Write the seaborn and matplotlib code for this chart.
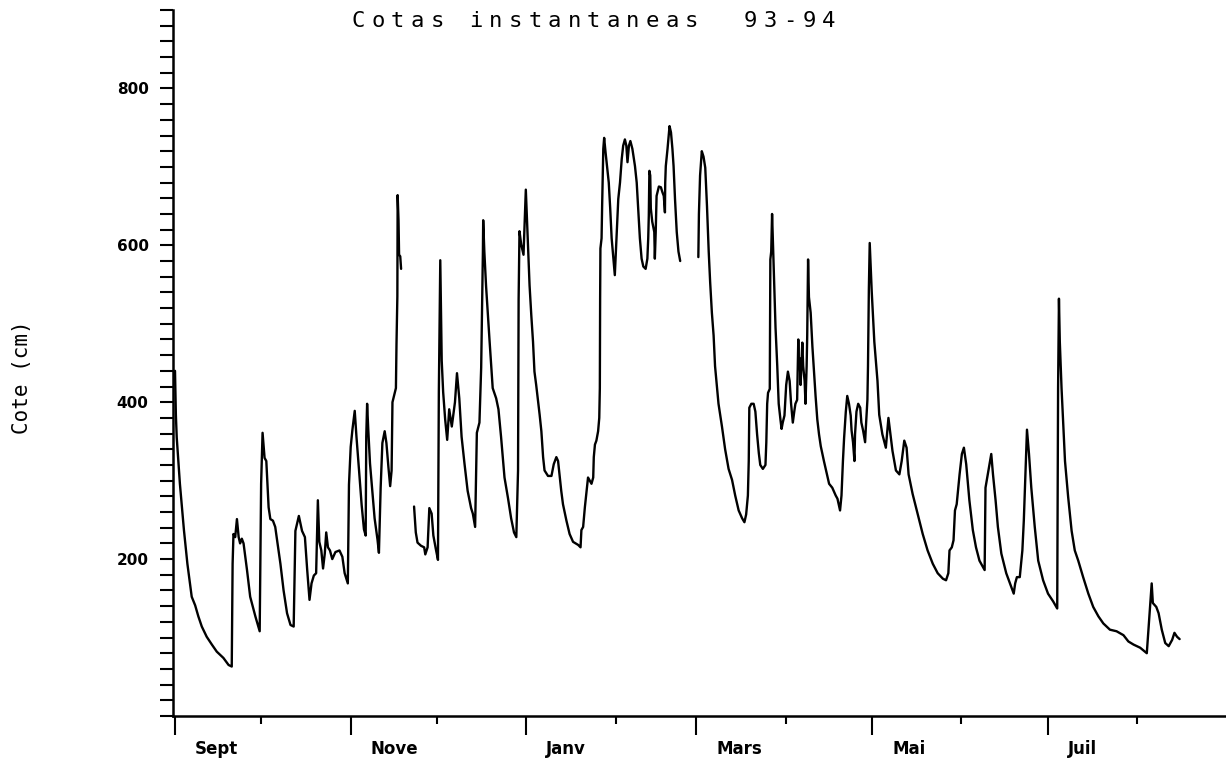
import numpy as np
import pandas as pd
import seaborn as sns
import matplotlib
matplotlib.use('Agg')
import matplotlib.pyplot as plt
import matplotlib.dates as mdates
from matplotlib.ticker import FixedLocator, MultipleLocator, FuncFormatter
from matplotlib.transforms import ScaledTranslation

# jours depuis le 1er septembre 1993 / cote (cm), lus sur le graphique
# trois troncons separes par des lacunes
jours_a = [0, 0.3, 0.6, 1.7, 3.1, 4.3, 5.8, 7.0, 8.1, 9.3, 11.0, 12.8, 14.5, 16.8, 18.6, 19.7,
           20.0, 20.3, 20.9, 21.5, 22.1, 22.6, 23.2, 23.8, 25.0, 26.1, 27.9, 29.4, 29.9, 30.4,
           31.1, 31.7, 32.5, 33.1, 34.0, 34.8, 35.6, 36.6, 37.7, 38.9, 40.1, 41.2, 41.8, 43.0,
           44.1, 45.1, 45.9, 46.7, 47.4, 48.2, 49.0, 49.6, 50.1, 50.8, 51.4, 52.0, 52.5, 53.1,
           53.8, 54.6, 55.7, 57.1, 58.1, 58.9, 60.0, 60.4, 61.0, 61.6, 62.4, 63.0, 63.9, 64.8,
           65.6, 66.2, 66.4, 66.7, 67.1, 67.7, 68.5, 69.3, 70.3, 70.8, 71.4, 72.0, 72.8, 73.4,
           74.1, 74.7, 75.2, 75.5, 76.1, 76.7, 76.9, 77.2, 77.3, 77.6, 77.8, 78.2, 78.5]
cotes_a = [440, 384, 355, 296, 237, 194, 152, 141, 127, 114, 101, 91, 82, 74, 65, 63,
           194, 232, 228, 251, 228, 220, 226, 220, 186, 152, 127, 108, 296, 361,
           329, 325, 266, 251, 249, 241, 220, 194, 160, 131, 116, 114, 236, 255,
           236, 228, 186, 148, 169, 179, 182, 275, 222, 211, 188, 207, 234, 215,
           211, 200, 209, 211, 203, 182, 169, 295, 343, 365, 389, 356, 313, 269,
           238, 230, 356, 398, 365, 322, 287, 252, 225, 208, 291, 348, 363, 348,
           317, 293, 313, 400, 409, 418, 474, 535, 664, 632, 588, 586, 570]

jours_b = [83.0, 83.6, 84.2, 85.4, 86.5, 86.9, 87.7, 88.3, 89.1, 89.7, 90.6, 91.3, 91.6, 92.1,
           92.6, 93.1, 93.8, 94.5, 95.2, 96.1, 97.2, 97.9, 98.7, 99.5, 100.5, 101.6, 102.8,
           103.4, 104.2, 104.8, 105.7, 106.3, 106.9, 107.0, 107.4, 108.0, 109.2, 110.3, 111.5,
           112.3, 113.2, 114.4, 115.6, 116.7, 117.7, 118.5, 119.1, 119.3, 119.6, 120.2, 121.0,
           121.8, 123.1, 123.7, 124.3, 124.8, 125.4, 126.6, 127.2, 127.8, 128.3, 129.5, 130.7,
           131.5, 132.4, 133.0, 133.6, 134.1, 134.7, 135.9, 137.0, 138.2, 140.0, 140.8, 141.1,
           141.7, 142.3, 142.9, 143.4, 144.0, 144.6, 145.2, 145.4, 145.8, 146.3, 146.9, 147.3,
           147.5, 147.6, 147.7, 148.1, 148.3, 148.7, 149.0, 149.5, 150.2, 150.6, 151.1, 151.6,
           152.2, 152.7, 153.3, 153.9, 154.5, 155.1, 155.6, 156.2, 156.7, 157.1, 157.6, 158.1,
           158.8, 159.7, 160.3, 160.9, 161.4, 162.0, 162.6, 163.4, 164.0, 164.3, 164.5, 164.7,
           165.0, 165.2, 165.7, 166.4, 166.6, 166.9, 167.2, 168.0, 168.7, 169.2, 169.7, 170.1,
           170.2, 170.4, 171.0, 171.7, 172.2, 172.7, 173.1, 173.6, 174.2, 174.8, 175.4]
cotes_b = [267, 234, 221, 217, 215, 206, 215, 265, 258, 230, 212, 199, 413, 581,
           453, 413, 378, 352, 391, 369, 400, 437, 405, 356, 322, 287, 265,
           258, 241, 361, 374, 444, 592, 632, 592, 548, 479, 418, 405,
           391, 356, 304, 278, 252, 234, 228, 313, 531, 618, 601, 588,
           671, 549, 511, 477, 439, 422, 384, 363, 330, 313, 306, 306,
           321, 330, 325, 304, 287, 270, 249, 232, 222, 218, 215, 237,
           241, 266, 287, 304, 300, 296, 304, 330, 346, 351, 363, 380,
           418, 532, 596, 609, 651, 723, 737, 718, 693, 680, 647, 609,
           583, 562, 609, 659, 680, 710, 727, 735, 727, 706, 727, 733,
           723, 701, 680, 642, 609, 583, 573, 570, 583, 609, 638, 695,
           689, 647, 630, 617, 583, 617, 663, 675, 674, 668, 663, 642,
           680, 701, 723, 752, 744, 723, 701, 659, 617, 592, 580]

jours_c = [181.7, 181.9, 182.3, 182.9, 183.5, 184.1, 184.7, 185.3, 185.8, 186.4, 187.0, 187.5,
           188.1, 188.7, 189.9, 191.0, 192.2, 193.4, 194.5, 195.7, 196.9, 197.7, 198.3, 198.9,
           199.2, 199.4, 200.1, 200.9, 201.5, 202.1, 202.7, 203.2, 204.1, 205.0, 205.3, 205.6,
           205.9, 206.5, 206.7, 207.0, 207.3, 207.7, 207.9, 208.5, 209.1, 209.6, 210.2, 210.6,
           211.0, 211.6, 212.2, 212.8, 213.4, 213.9, 214.5, 215.0, 215.4, 216.0, 216.4, 216.6,
           216.9, 217.2, 217.8, 218.1, 218.6, 218.9, 219.3, 219.5, 219.8, 220.1, 220.7, 221.3,
           221.9, 222.4, 223.0, 223.6, 224.2, 225.3, 226.5, 227.1, 228.2, 229.4, 230.0, 230.9,
           231.4, 231.9, 232.3, 232.9, 233.4, 234.0, 234.6, 234.9, 235.4, 235.9, 236.1, 236.6,
           237.2, 237.9, 238.3, 238.9, 239.6, 239.8, 240.4, 240.6, 240.9, 241.2, 241.9, 242.8,
           243.9, 244.5, 245.6, 246.8, 247.4, 247.7, 248.2, 249.1, 250.3, 251.5, 252.3, 253.2,
           254.0, 254.7, 256.1, 257.8, 259.6, 261.3, 263.1, 264.8, 266.6, 267.7, 268.5, 268.9,
           269.7, 270.3, 270.8, 271.4, 272.4, 273.2, 273.9, 274.7, 275.8, 277.0, 278.1, 279.3,
           281.1, 281.4, 282.2, 283.4, 284.0, 284.9, 285.7, 286.9, 288.6, 290.3, 291.2, 291.7,
           292.3, 293.3, 294.2, 294.7, 295.4, 295.8, 296.5, 297.3, 298.5, 299.7, 301.4, 303.1,
           304.9, 306.3, 306.6, 306.9, 307.2, 307.8, 309.0, 310.1, 311.3, 312.4, 313.6, 315.3,
           317.1, 318.8, 320.6, 322.3, 324.6, 326.9, 329.3, 331.0, 332.8, 335.1, 337.4, 338.6,
           339.1, 339.5, 340.7, 341.5, 342.6, 343.8, 345.0, 346.2, 347.0, 347.9, 348.8]
cotes_c = [585, 640, 689, 720, 713, 699, 650, 592, 553, 514, 485, 446,
           422, 398, 369, 340, 315, 301, 281, 262, 252, 247, 257, 281,
           325, 393, 398, 398, 388, 359, 335, 320, 315, 320, 349, 398,
           412, 417, 582, 592, 640, 592, 568, 495, 446, 398, 378, 366,
           374, 383, 422, 439, 427, 398, 374, 388, 398, 403, 480, 446,
           456, 422, 476, 446, 427, 398, 446, 485, 582, 534, 514, 471,
           437, 408, 378, 359, 344, 325, 306, 296, 291, 281, 277, 262,
           281, 325, 354, 388, 408, 398, 383, 364, 349, 325, 359, 388,
           398, 393, 374, 364, 349, 364, 403, 446, 544, 603, 541, 477,
           427, 384, 359, 342, 368, 380, 365, 338, 313, 308, 325, 351,
           342, 308, 283, 258, 232, 211, 194, 182, 175, 173, 182, 211,
           215, 224, 262, 270, 308, 334, 342, 321, 275, 237, 215, 198,
           186, 291, 308, 334, 308, 275, 241, 207, 182, 165, 156, 169,
           177, 177, 211, 249, 321, 365, 334, 291, 241, 198, 173, 156,
           146, 137, 418, 532, 477, 418, 325, 279, 236, 211, 198, 177,
           156, 139, 127, 118, 110, 108, 103, 95, 91, 87, 80, 144,
           169, 144, 139, 131, 110, 93, 89, 97, 106, 101, 98]

mois_noms = {9: 'Sept', 11: 'Nove', 1: 'Janv', 3: 'Mars', 5: 'Mai', 7: 'Juil'}
titre = 'Cotas instantaneas  93-94'

debut = pd.Timestamp('1993-09-01')
frames = []
for nom, j, c in [('a', jours_a, cotes_a), ('b', jours_b, cotes_b), ('c', jours_c, cotes_c)]:
    frames.append(pd.DataFrame({'jour': j, 'cote': c, 'troncon': nom}))
df = pd.concat(frames, ignore_index=True)
df['date'] = debut + pd.to_timedelta(df['jour'], unit='D')

sns.set_style('ticks')
plt.rcParams['font.family'] = ['DejaVu Sans']
for k in ['text.color', 'axes.edgecolor', 'axes.labelcolor', 'xtick.color', 'ytick.color']:
    plt.rcParams[k] = 'black'

fig = plt.figure(figsize=(12.26, 7.65), dpi=100)
ax = fig.add_axes([0.1411, 0.0641, 0.8589, 0.9228])

sns.lineplot(data=df, x='date', y='cote', units='troncon', estimator=None,
             color='black', lw=1.7, ax=ax, legend=False)

ax.set_xlim(debut - pd.Timedelta(days=0.7), debut + pd.Timedelta(days=364.9))
ax.set_ylim(0, 900)

# axe des x : mois
ax.xaxis.set_major_locator(mdates.MonthLocator(bymonth=list(mois_noms.keys())))
ax.xaxis.set_minor_locator(mdates.MonthLocator())
ax.xaxis.set_major_formatter(FuncFormatter(lambda x, p: mois_noms.get(mdates.num2date(x).month, '')))
ax.tick_params(axis='x', which='major', direction='out', length=14, width=1.5, pad=3,
               labelsize=12, colors='black')
ax.tick_params(axis='x', which='minor', direction='out', length=6, width=1.5, colors='black')
decal = ScaledTranslation(0.2, 0, fig.dpi_scale_trans)
for lab in ax.get_xticklabels():
    lab.set_transform(lab.get_transform() + decal)
    lab.set_horizontalalignment('left')
    lab.set_fontweight('bold')

# axe des y
ax.yaxis.set_major_locator(FixedLocator([200, 400, 600, 800]))
ax.yaxis.set_minor_locator(MultipleLocator(20))
ax.tick_params(axis='y', which='both', direction='out', length=9.5, width=1.5, pad=8,
               labelsize=11, colors='black')
for lab in ax.get_yticklabels():
    lab.set_fontweight('bold')

for s in ['top', 'right']:
    ax.spines[s].set_visible(False)
for s in ['left', 'bottom']:
    ax.spines[s].set_linewidth(1.8)
    ax.spines[s].set_color('black')
ax.set_xlabel('')
ax.set_ylabel('')

# titre en caracteres espaces (style traceur)
pas = 19.6 / 1226
for i, ch in enumerate(titre):
    fig.text(358.5 / 1226 + i * pas, 1 - 21 / 765, ch, ha='center', va='center',
             family='DejaVu Sans Mono', fontsize=16, color='black')

fig.text(22 / 1226, 1 - 377 / 765, 'Cote (cm)', rotation=90, ha='center', va='center',
         family='DejaVu Sans Mono', fontsize=15, color='black')

fig.savefig('out.png', dpi=100)
